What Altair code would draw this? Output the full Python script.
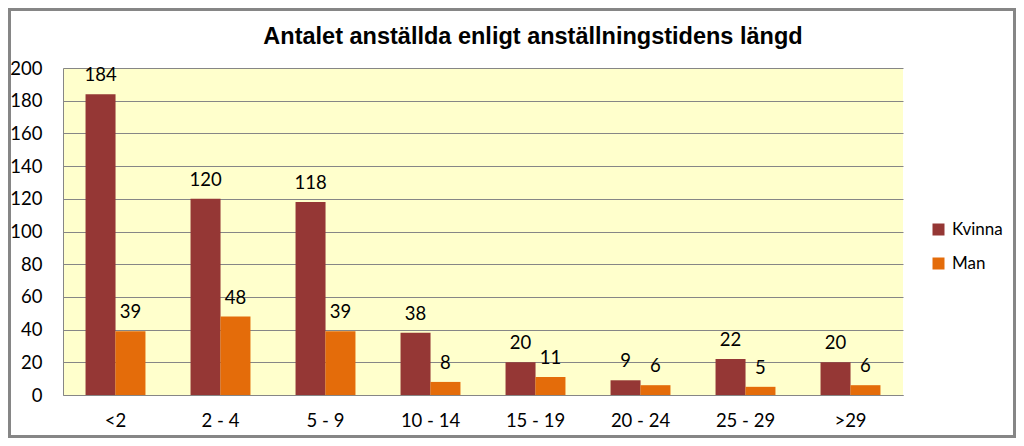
import altair as alt
import pandas as pd

categories = ["<2", "2 - 4", "5 - 9", "10 - 14", "15 - 19", "20 - 24", "25 - 29", ">29"]
kvinna = [184, 120, 118, 38, 20, 9, 22, 20]
man = [39, 48, 39, 8, 11, 6, 5, 6]
series = ["Kvinna", "Man"]
colors = ["#953735", "#E46C0A"]
y_ticks = [0, 20, 40, 60, 80, 100, 120, 140, 160, 180, 200]
title_text = "Antalet anställda enligt anställningstidens längd"

rows = []
for c, k, m in zip(categories, kvinna, man):
    rows.append({"Tid": c, "Kön": "Kvinna", "Antal": k})
    rows.append({"Tid": c, "Kön": "Man", "Antal": m})
df = pd.DataFrame(rows)

FONT = "Lato"
FS = 18.5
W, H = 840, 327
PL, PT = 55, 60
PR = 1008 - PL - W
PB = 430 - PT - H

x = alt.X("Tid:N", sort=categories, title=None,
          scale=alt.Scale(paddingInner=0.43, paddingOuter=0.215),
          axis=alt.Axis(labelAngle=0, ticks=False, labelPadding=16, labelFontSize=FS,
                        labelFont=FONT, labelColor="#000000", domainColor="#868686",
                        grid=False, labelOverlap=False))
xo = alt.XOffset("Kön:N", sort=series, scale=alt.Scale(paddingInner=0, paddingOuter=0))
y = alt.Y("Antal:Q", title=None,
          scale=alt.Scale(domain=[0, 200], nice=False),
          axis=alt.Axis(values=y_ticks, tickCount=50, ticks=False, labelPadding=21,
                        labelFontSize=FS, labelFont=FONT, labelColor="#000000",
                        labelOverlap=False, labelBound=False,
                        domainColor="#868686", gridColor="#868686", gridWidth=1))
color = alt.Color("Kön:N", sort=series, scale=alt.Scale(domain=series, range=colors),
                  legend=alt.Legend(title=None, orient="none", legendX=867, legendY=153,
                                    symbolType="square", symbolSize=144, symbolStrokeWidth=0,
                                    labelFontSize=17, labelFont=FONT, labelColor="#000000",
                                    rowPadding=16, labelOffset=5, padding=0))

bars = alt.Chart(df).mark_bar(size=30).encode(x=x, xOffset=xo, y=y, color=color)
labels = alt.Chart(df).mark_text(dy=-19, fontSize=FS, font=FONT, color="#000000").encode(
    x=x, xOffset=xo, y=y, text="Antal:Q")

title = alt.Chart(pd.DataFrame({"t": [title_text]})).mark_text(
    fontSize=23.5, font="Liberation Sans", fontWeight="bold", color="#000000", align="center",
    baseline="middle").encode(x=alt.value(470), y=alt.value(-31), text="t:N")

border = alt.Chart(pd.DataFrame({"a": [0]})).mark_rect(
    fill=None, stroke="#868686", strokeWidth=3).encode(
    x=alt.value(-PL + 1.5), x2=alt.value(W + PR - 1.5),
    y=alt.value(-PT + 1.5), y2=alt.value(H + PB - 1.5))

chart = alt.layer(bars, labels, title, border).properties(
    width=W, height=H,
    autosize=alt.AutoSizeParams(type="none"),
    padding={"left": PL, "top": PT, "right": PR, "bottom": PB},
    background="#FFFFFF",
).configure_view(fill="#FFFFCC", stroke=None)

chart.save("out.html", embed_options={"renderer": "svg", "actions": False})
